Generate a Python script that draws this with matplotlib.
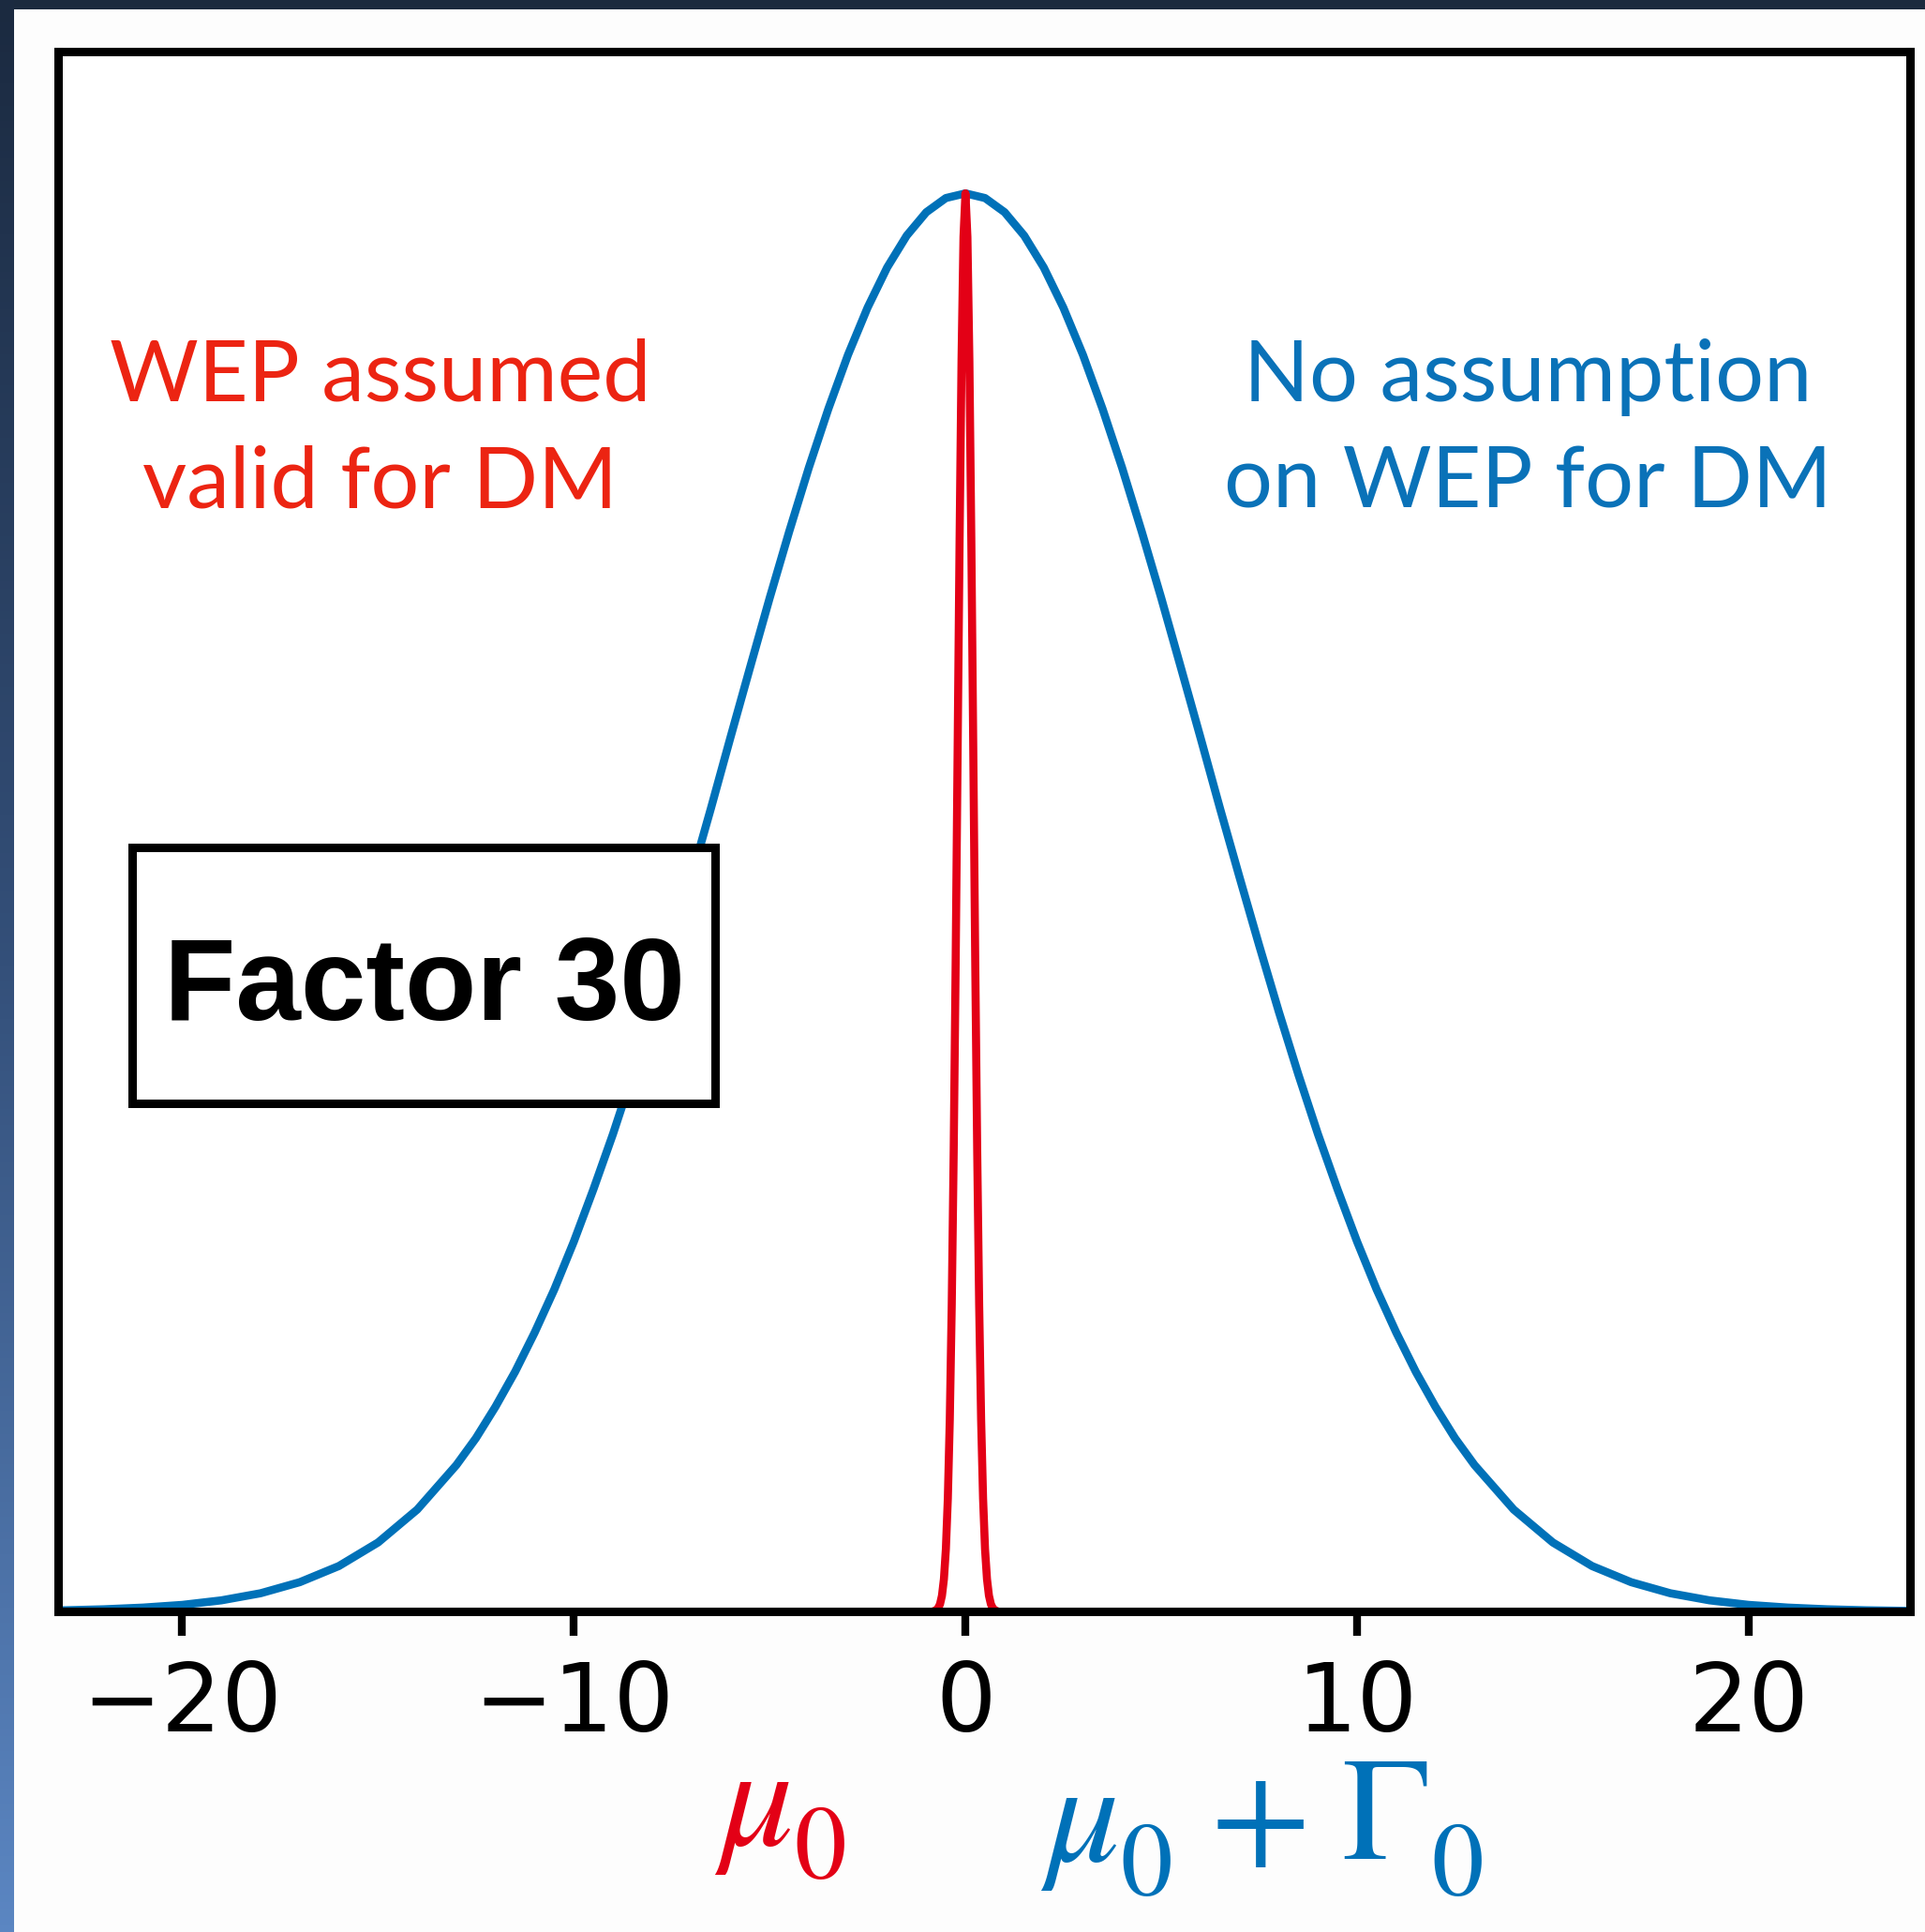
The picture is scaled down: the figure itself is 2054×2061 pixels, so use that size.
import matplotlib
matplotlib.use("Agg")
import matplotlib.pyplot as plt
import numpy as np
from matplotlib.patches import Rectangle
from matplotlib.colors import LinearSegmentedColormap

# ---- data ----
blue_x = [-23.2, -23, -22, -21, -20, -19, -18, -17, -16, -15, -14, -13, -12.5, -12, -11.5,
          -11, -10.5, -10, -9.5, -9, -8.5, -8, -7.5, -7, -6.5, -6, -5.5, -5, -4.5, -4,
          -3.5, -3, -2.5, -2, -1.5, -1, -0.5, 0, 0.5, 1, 1.5, 2, 2.5, 3, 3.5, 4, 4.5,
          5, 5.5, 6, 6.5, 7, 7.5, 8, 8.5, 9, 9.5, 10, 10.5, 11, 11.5, 12, 12.5, 13,
          14, 15, 16, 17, 18, 19, 20, 21, 22, 23, 24, 24.2]
blue_y = [0.0007, 0.0008, 0.0015, 0.0027, 0.0046, 0.0078, 0.0128, 0.0206, 0.0320, 0.0486,
          0.0718, 0.1032, 0.1222, 0.1444, 0.1690, 0.1967, 0.2270, 0.2608, 0.2977, 0.3367,
          0.3787, 0.4231, 0.4697, 0.5176, 0.5663, 0.6164, 0.6657, 0.7146, 0.7616, 0.8065,
          0.8481, 0.8861, 0.9194, 0.9477, 0.9702, 0.9867, 0.9967, 1.0, 0.9967, 0.9867,
          0.9702, 0.9477, 0.9194, 0.8861, 0.8481, 0.8065, 0.7616, 0.7146, 0.6657, 0.6164,
          0.5663, 0.5176, 0.4697, 0.4231, 0.3787, 0.3367, 0.2977, 0.2608, 0.2270, 0.1967,
          0.1690, 0.1444, 0.1222, 0.1032, 0.0718, 0.0486, 0.0320, 0.0206, 0.0128, 0.0078,
          0.0046, 0.0027, 0.0015, 0.0008, 0.0004, 0.0003]

red_x = [-0.8, -0.75, -0.7, -0.65, -0.6, -0.55, -0.5, -0.45, -0.4, -0.35, -0.3, -0.25,
         -0.2, -0.15, -0.1, -0.05, 0.0, 0.05, 0.1, 0.15, 0.2, 0.25, 0.3, 0.35, 0.4,
         0.45, 0.5, 0.55, 0.6, 0.65, 0.7, 0.75, 0.8]
red_y = [0.0003, 0.0009, 0.0022, 0.0051, 0.0111, 0.0228, 0.0439, 0.0796, 0.1353, 0.2163,
         0.3247, 0.4578, 0.6065, 0.7548, 0.8825, 0.9692, 1.0, 0.9692, 0.8825, 0.7548,
         0.6065, 0.4578, 0.3247, 0.2163, 0.1353, 0.0796, 0.0439, 0.0228, 0.0111, 0.0051,
         0.0022, 0.0009, 0.0003]

x_ticks = [-20, -10, 0, 10, 20]
x_ticklabels = ["\u221220", "\u221210", "0", "10", "20"]

red_text = "WEP assumed\nvalid for DM"
blue_text = "No assumption\non WEP for DM"
box_text = "Factor 30"

# ---- styling ----
BLUE = "#0071b8"
RED = "#e30016"
RED_TXT = "#ec2412"
BLUE_TXT = "#0a72b8"

plt.rcParams["mathtext.fontset"] = "stix"

W, H = 2054, 2061
fig = plt.figure(figsize=(W / 100, H / 100), dpi=100)
fig.patch.set_facecolor("#fdfdfd")

def fx(px):
    return px / W

def fy(py):
    return 1 - py / H

# slide background strips (top and left)
top_ax = fig.add_axes([0, fy(10), 1, 10 / H])
top_ax.set_axis_off()
top_ax.add_patch(Rectangle((0, 0), 1, 1, color="#1b2a3e", transform=top_ax.transAxes))

left_ax = fig.add_axes([0, 0, fx(15), 1])
left_ax.set_axis_off()
grad = np.linspace(0, 1, 256).reshape(-1, 1)
cmap = LinearSegmentedColormap.from_list("bg", ["#1b2a40", "#34507a", "#5b86c2"])
left_ax.imshow(grad, aspect="auto", cmap=cmap, extent=[0, 1, 0, 1], origin="upper")

# main axes
ax = fig.add_axes([fx(62), fy(1719), fx(2038 - 62), (1719 - 55) / H])
ax.set_facecolor("white")
ax.plot(blue_x, blue_y, color=BLUE, lw=6.2, zorder=3, solid_joinstyle="round",
        solid_capstyle="butt")
ax.plot(red_x, red_y, color=RED, lw=6.2, zorder=4, solid_joinstyle="round")
ax.set_xlim(-23.17, 24.12)
ax.set_ylim(0, 1.1)
ax.set_yticks([])
ax.set_xticks(x_ticks)
ax.set_xticklabels(x_ticklabels, fontsize=73, family="DejaVu Sans")
ax.tick_params(axis="x", direction="out", length=19, width=6, pad=18)
for s in ax.spines.values():
    s.set_linewidth(6.5)
    s.set_color("black")
    s.set_zorder(6)

# Factor 30 box (in axes fraction)
bx0 = (141 - 62) / 1976
bx1 = (763 - 62) / 1976
by0 = (1719 - 1177) / 1664
by1 = (1719 - 904) / 1664
ax.add_patch(Rectangle((bx0, by0), bx1 - bx0, by1 - by0, transform=ax.transAxes,
                       facecolor="white", edgecolor="black", lw=6.5, zorder=5))
fig.text(fx(453), fy(1088), box_text, ha="center", va="baseline", fontsize=90,
         fontweight="bold", family="Liberation Sans", color="black", zorder=7)

# annotations (y = baseline of second line)
fig.text(fx(406), fy(541), red_text, ha="center", va="baseline", fontsize=66,
         family="Lato", color=RED_TXT, linespacing=1.45, multialignment="center")
fig.text(fx(1630), fy(541), blue_text, ha="center", va="baseline", fontsize=66,
         family="Lato", color=BLUE_TXT, linespacing=1.45, multialignment="center")

# bottom labels, built glyph by glyph
def glyph(xc, yb, s, size, color):
    fig.text(fx(xc), fy(yb), s, ha="center", va="baseline", fontsize=size, color=color)

glyph(803, 1968, r"$\mu$", 112, RED)
glyph(874, 2003, r"$\mathrm{0}$", 80, RED)

glyph(1151, 1985, r"$\mu$", 112, BLUE)
glyph(1222, 2021, r"$\mathrm{0}$", 80, BLUE)
glyph(1341, 1985, r"$+$", 112, BLUE)
glyph(1478, 1983, r"$\Gamma$", 112, BLUE)
glyph(1554, 2021, r"$\mathrm{0}$", 80, BLUE)

fig.savefig("out.png", dpi=100, facecolor=fig.get_facecolor())
